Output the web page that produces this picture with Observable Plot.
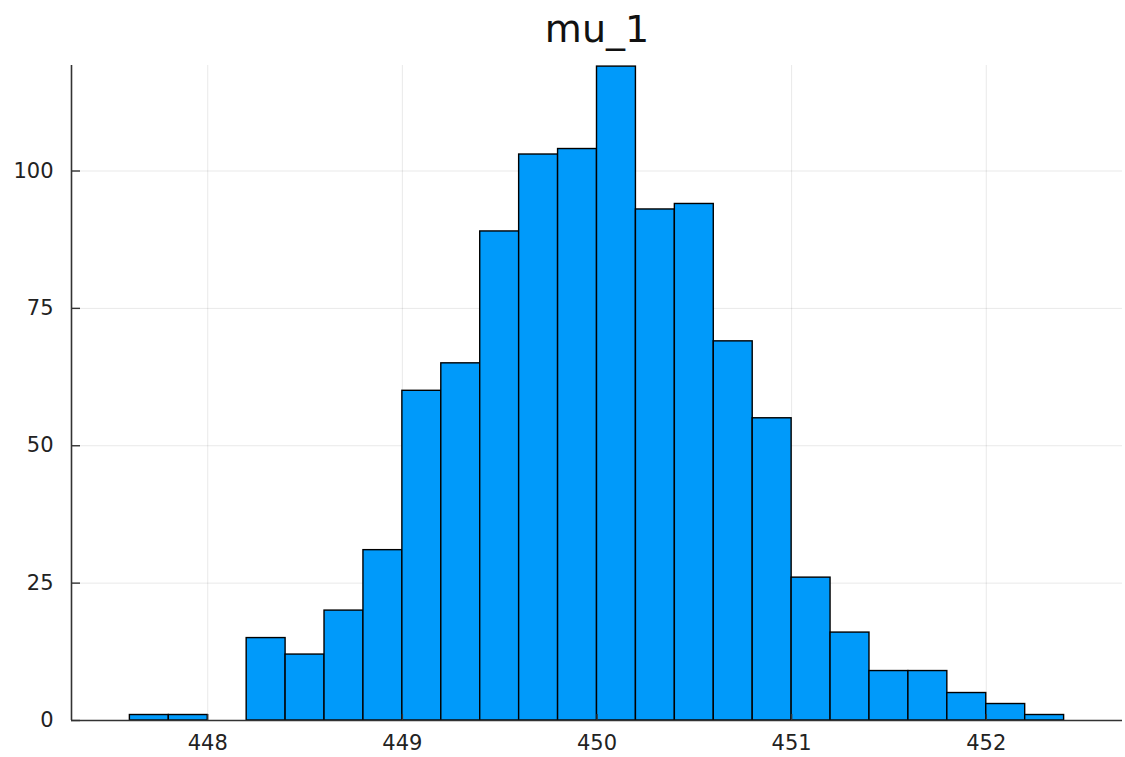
<!DOCTYPE html>
<html>
<head>
<meta charset="utf-8">
<script src="https://cdn.jsdelivr.net/npm/d3@7"></script>
<script src="https://cdn.jsdelivr.net/npm/@observablehq/plot@0.6"></script>
<style>
  html, body { margin: 0; padding: 0; background: #fff; }
  #chart svg { display: block; }
</style>
</head>
<body>
<div id="chart"></div>
<script>
const title = "mu_1";
const binStarts = [447.6, 447.8, 448.0, 448.2, 448.4, 448.6, 448.8, 449.0, 449.2, 449.4, 449.6, 449.8,
                   450.0, 450.2, 450.4, 450.6, 450.8, 451.0, 451.2, 451.4, 451.6, 451.8, 452.0, 452.2];
const counts = [1, 1, 0, 15, 12, 20, 31, 60, 65, 89, 103, 104,
                119, 93, 94, 69, 55, 26, 16, 9, 9, 5, 3, 1];
const binWidth = 0.2;
const xTicks = [448, 449, 450, 451, 452];
const yTicks = [0, 25, 50, 75, 100];
const xDomain = [447.3, 452.7];
const yDomain = [0, 119.2];

const bins = binStarts.map((s, i) => ({x1: s, x2: s + binWidth, count: counts[i]}));

const font = "'DejaVu Sans', sans-serif";
const plot = Plot.plot({
  width: 1125,
  height: 757,
  marginLeft: 71,
  marginRight: 3,
  marginTop: 65,
  marginBottom: 37,
  style: {fontFamily: font, fontSize: "21px", color: "#222", background: "#fff"},
  x: {domain: xDomain, label: null, tickFormat: "d"},
  y: {domain: yDomain, label: null, tickFormat: "d"},
  marks: [
    Plot.gridX(xTicks, {stroke: "#000", strokeOpacity: 0.09, strokeWidth: 1}),
    Plot.gridY(yTicks, {stroke: "#000", strokeOpacity: 0.09, strokeWidth: 1}),
    Plot.rectY(bins, {x1: "x1", x2: "x2", y: "count", fill: "#009AFA", stroke: "#000", strokeWidth: 1.4}),
    Plot.ruleY([yDomain[0]], {stroke: "#333", strokeWidth: 1.6}),
    Plot.ruleX([xDomain[0]], {stroke: "#333", strokeWidth: 1.6}),
    Plot.axisX(xTicks, {tickSize: -6, text: null, stroke: "#333", strokeWidth: 1.4}),
    Plot.axisX(xTicks, {tickSize: 0, tickPadding: 15, fill: "#222", fontSize: 21, tickFormat: "d", fontFamily: font}),
    Plot.axisY(yTicks, {tickSize: -9, text: null, stroke: "#333", strokeWidth: 1.4}),
    Plot.axisY(yTicks, {tickSize: 0, tickPadding: 18, fill: "#222", fontSize: 21, tickFormat: "d", fontFamily: font}),
    Plot.text([title], {frameAnchor: "top", lineAnchor: "middle", dy: -36, fontSize: 38, fill: "#111", fontFamily: font})
  ]
});
document.getElementById("chart").appendChild(plot);
</script>
</body>
</html>
